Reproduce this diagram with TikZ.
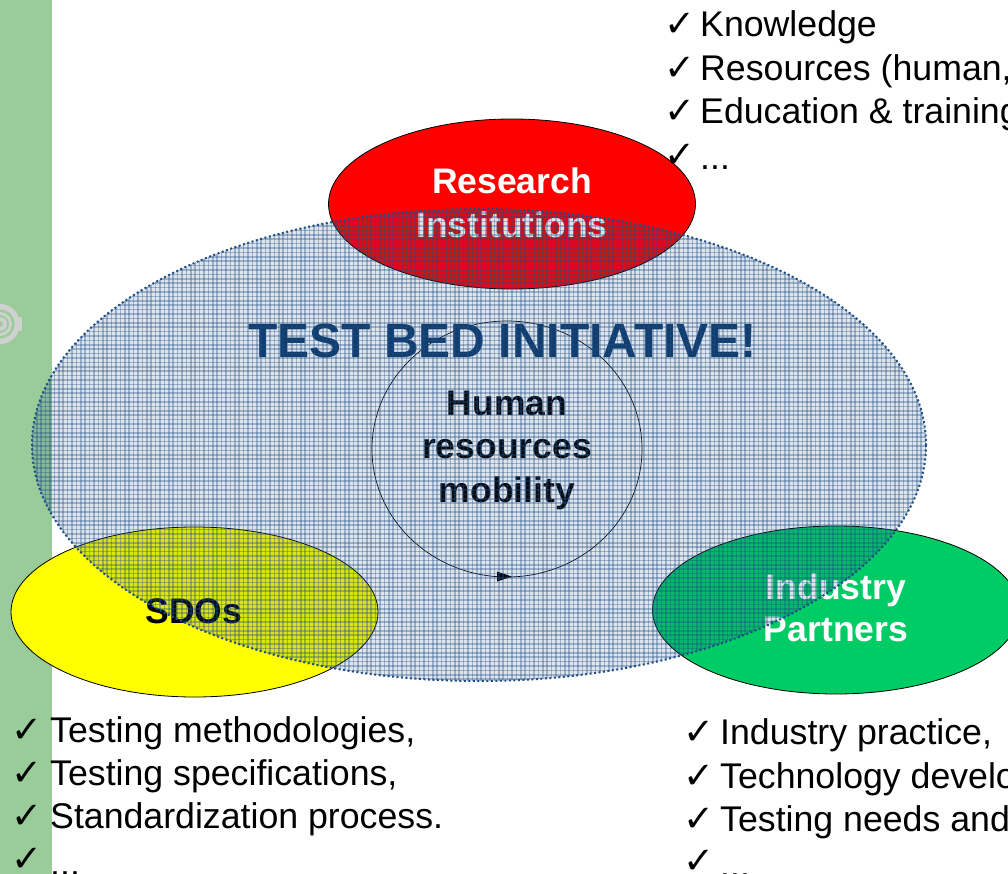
\documentclass[tikz,border=0pt]{standalone}
\usepackage{fontspec}
\setmainfont{Liberation Sans}
\newfontfamily\symfont{DejaVu Sans}
\tikzset{
  x=1pt,y=-1pt,
  listline/.style={anchor=base west,inner sep=0pt,font=\fontsize{35.7}{40}\selectfont,text=black},
  tick/.style={anchor=base,inner sep=0pt,font=\symfont\fontsize{37}{38}\selectfont,text=black},
  oval/.style={draw=black,line width=0.8pt},
  ellipselabel/.style={align=center,inner sep=0pt,font=\fontsize{35.5}{43.5}\selectfont\bfseries},
}
\definecolor{sidegreen}{RGB}{153,204,153}
\definecolor{gridblue}{RGB}{31,78,133}
\definecolor{titleblue}{RGB}{14,58,107}
\definecolor{indgreen}{RGB}{0,204,102}
\definecolor{logogray}{RGB}{208,208,208}
\definecolor{ovalyellow}{RGB}{255,255,0}
\definecolor{ovalred}{RGB}{255,0,0}
\begin{document}
\begin{tikzpicture}
\path[use as bounding box] (0,0) rectangle (1008,874);
\clip (0,0) rectangle (1008,874);
\fill[sidegreen] (0,0) rectangle (52,874);
% logo
\fill[logogray] (0,324) circle (20);
\fill[logogray] (19,317) rectangle (22,331);
\fill[sidegreen] (0,324) circle (14.5);
\fill[logogray] (0,324) circle (12);
\fill[sidegreen] (0,324) circle (9);
\fill[logogray] (0,324) circle (7);
\fill[sidegreen] (0,324) circle (3);
% ellipses under the pattern
\draw[oval,fill=ovalyellow] (194.5,612) ellipse (183.5 and 85);
\draw[oval,fill=indgreen] (836,610) ellipse (183.5 and 84);
\draw[oval,fill=ovalred] (512,204) ellipse (183.5 and 85);
\node[ellipselabel,text=white] (research) at (512,203) {Research\\Institutions};
\node[ellipselabel,text=black] (sdos) at (194,611) {SDOs};
\node[ellipselabel,text=white] (industry) at (836,608) {Industry\\[-1.5pt]Partners};
% circle
\coordinate (cyc) at (507,449);
\draw[line width=0.7pt,black] (cyc) ellipse (135 and 128);
\fill[black] (512,576.6) -- (497,571.5) -- (497,581.5) -- cycle;
\node[ellipselabel,text=black] (human) at (507,450) {Human\\resources\\mobility};
\node[inner sep=0pt,text=titleblue,font=\fontsize{48}{50}\selectfont\bfseries] (title) at (502.5,341) {TEST BED INITIATIVE!};
% pattern ellipse
\begin{scope}
\clip (479,445) ellipse (447 and 236);
\fill[gridblue,opacity=0.15] (0,180) rectangle (1008,700);
\foreach \i in {0,...,215}{
  \draw[gridblue,opacity=0.34,line width=1.5pt] ({28+\i*4.4},180) -- ({28+\i*4.4},700);
}
\foreach \j in {0,...,120}{
  \draw[gridblue,opacity=0.34,line width=1.5pt] (0,{182+\j*4.4}) -- (1008,{182+\j*4.4});
}
\end{scope}
\draw[gridblue,line width=2pt,dash pattern=on 2pt off 2.5pt] (479,445) ellipse (447 and 236);
% lists
\foreach \y/\t/\k in {37/Knowledge/37,81/{Resources (human,}/81,124/{Education \& training}/124,170/{...}/168}{
  \node[tick] at (680,\k) {✓};
  \node[listline] at (700,\y) {\t};
}
\foreach \y/\t/\k in {742/{Testing methodologies,}/742,785/{Testing specifications,}/785,828/{Standardization process.}/828,875/{...}/871}{
  \node[tick] at (27,\k) {✓};
  \node[listline] at (50,\y) {\t};
}
\foreach \y/\t/\k in {744/{Industry practice,}/744,788/{Technology development,}/788,831/{Testing needs and}/831,877/{...}/873}{
  \node[tick] at (699,\k) {✓};
  \node[listline] at (720,\y) {\t};
}
\end{tikzpicture}
\end{document}
